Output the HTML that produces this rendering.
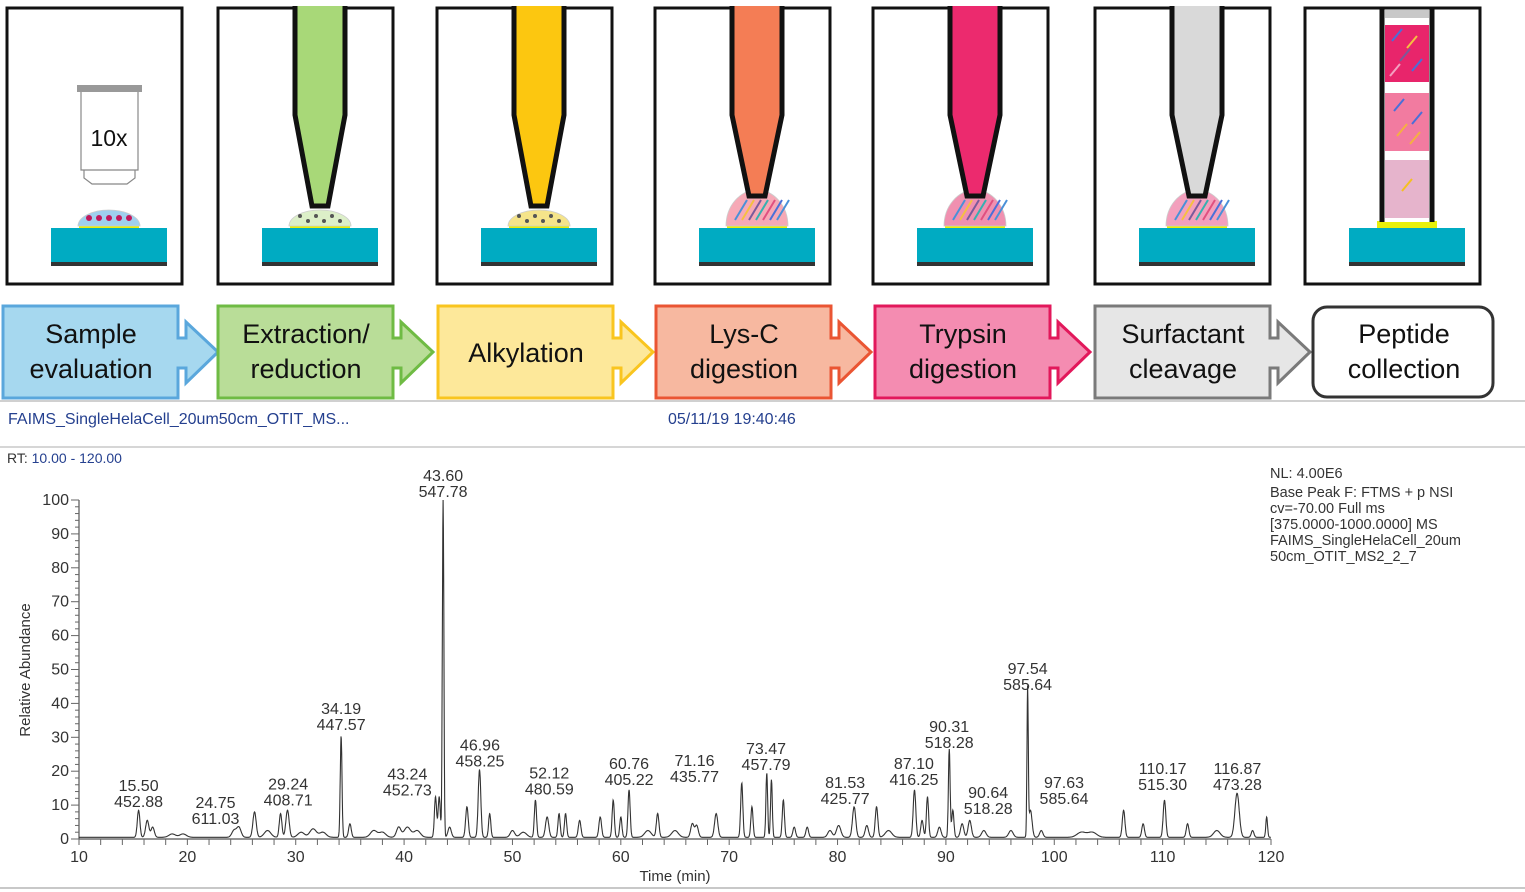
<!DOCTYPE html>
<html><head><meta charset="utf-8">
<style>
html,body{margin:0;padding:0;background:#fff;}
svg{display:block;font-family:"Liberation Sans",sans-serif;}
</style></head>
<body>
<svg id="fig" width="1525" height="892" viewBox="0 0 1525 892" xmlns="http://www.w3.org/2000/svg">
  <g id="panels"></g>
  <g id="steps"></g>
  <line x1="0" y1="401" x2="1525" y2="401" stroke="#d0d0d0" stroke-width="2"/>
  <text x="8" y="424" font-size="16" fill="#25408f">FAIMS_SingleHelaCell_20um50cm_OTIT_MS...</text>
  <text x="668" y="424" font-size="16" fill="#25408f">05/11/19 19:40:46</text>
  <line x1="0" y1="447" x2="1525" y2="447" stroke="#c8c8c8" stroke-width="1.5"/>
  <text x="7" y="463" font-size="14" fill="#333">RT: <tspan fill="#25408f">10.00 - 120.00</tspan></text>
  <g font-size="14.5" fill="#333">
    <text x="1270" y="478">NL: 4.00E6</text>
    <text x="1270" y="497">Base Peak F: FTMS + p NSI</text>
    <text x="1270" y="513">cv=-70.00  Full ms</text>
    <text x="1270" y="529">[375.0000-1000.0000]  MS</text>
    <text x="1270" y="545">FAIMS_SingleHelaCell_20um</text>
    <text x="1270" y="561">50cm_OTIT_MS2_2_7</text>
  </g>
  <g id="chart"></g>
  <line x1="0" y1="888" x2="1525" y2="888" stroke="#c8c8c8" stroke-width="2"/>
</svg>
<script>
// ---- chart data ----
const peakTimes = [15.5,16.3,16.8,18.6,19.6,24.3,24.75,26.2,27.4,28.6,29.24,30.5,31.6,32.5,34.19,35.0,37.2,38.0,39.5,40.3,41.2,42.9,43.24,43.60,44.2,45.8,46.96,47.9,50.0,51.0,52.12,53.2,54.3,54.9,56.2,58.1,59.3,60.0,60.76,62.5,63.4,65.0,66.6,67.0,68.8,71.16,72.1,73.47,73.9,75.0,76.0,77.2,79.3,80.1,81.53,82.7,83.6,84.7,87.10,87.8,88.3,89.4,90.31,90.64,91.5,92.2,93.5,96.0,97.54,97.8,98.8,102.5,103.5,106.4,108.2,110.17,112.3,115.0,116.87,118.3,119.6];
const peakHeights = [8,5,3,1,1,2,3,7.5,2,7,8,1.5,2.5,1.5,30,4,2,1.5,3,3,2,12,12,100,3,9,20,7,2,1.5,11,6,7,7,5,6,11,6,14,2,7,2,4,3.5,7,16,9,19,17,11,3,3,2,3.5,9,3.5,9,2,14,5,12,3,26,8,4,5,2,2,43,8,2,1.5,1.5,8,4,11,4,2,13,2,6];
const peakWidths = [0.12,0.15,0.15,0.3,0.3,0.2,0.2,0.15,0.3,0.12,0.15,0.3,0.3,0.3,0.08,0.12,0.3,0.3,0.2,0.3,0.3,0.1,0.1,0.07,0.15,0.12,0.12,0.1,0.2,0.3,0.1,0.15,0.1,0.1,0.12,0.12,0.1,0.1,0.1,0.3,0.12,0.3,0.15,0.15,0.15,0.1,0.1,0.08,0.08,0.1,0.12,0.12,0.2,0.2,0.15,0.15,0.12,0.3,0.12,0.12,0.1,0.15,0.08,0.1,0.15,0.15,0.2,0.2,0.06,0.15,0.15,0.4,0.4,0.12,0.12,0.12,0.12,0.3,0.2,0.12,0.08];
const labelTimes = ["15.50","24.75","29.24","34.19","43.24","43.60","46.96","52.12","60.76","71.16","73.47","81.53","87.10","90.31","90.64","97.54","97.63","110.17","116.87"];
const labelMasses = ["452.88","611.03","408.71","447.57","452.73","547.78","458.25","480.59","405.22","435.77","457.79","425.77","416.25","518.28","518.28","585.64","585.64","515.30","473.28"];
const labelX = [15.5,22.6,29.3,34.19,40.3,43.60,47.0,53.4,60.76,66.8,73.4,80.7,87.05,90.3,93.9,97.54,100.9,110.0,116.9];
const labelY = [8.5,3.6,9,31.2,12,100,20.5,12.3,15,16,19.5,9.5,15,26,6.5,43,9.5,13.5,13.5];
const xTicks = [10,20,30,40,50,60,70,80,90,100,110,120];
const yTicks = [0,10,20,30,40,50,60,70,80,90,100];

const X0=79, X1=1271, Y0=839, Y1=500, T0=10, T1=120;
function xs(t){return X0+(t-T0)*(X1-X0)/(T1-T0);}
function ys(v){return Y0-(v/100)*(Y0-Y1);}
const NS="http://www.w3.org/2000/svg";
function mk(tag,attrs,parent){const e=document.createElementNS(NS,tag);for(const k in attrs)e.setAttribute(k,attrs[k]);parent.appendChild(e);return e;}

const chart=document.getElementById('chart');
const ax=mk('line',{x1:X0,y1:Y0,x2:X1,y2:Y0,stroke:'#555','stroke-width':1.2},chart);


const ay=mk('line',{x1:X0,y1:Y0,x2:X0,y2:Y1,stroke:'#555','stroke-width':1.2},chart);


for(let v=0;v<=100;v+=2){
  const major=v%10===0;
  mk('line',{x1:X0-(major?8:4),y1:ys(v),x2:X0,y2:ys(v),stroke:'#666','stroke-width':1},chart);
}
yTicks.forEach(v=>{
  const t=mk('text',{x:X0-10,y:ys(v)+5,'font-size':16,'text-anchor':'end',fill:'#333'},chart);
  t.textContent=v;
  
  
});
for(let v=10;v<=120;v+=2){
  mk('line',{x1:xs(v),y1:Y0,x2:xs(v),y2:Y0+6,stroke:'#666','stroke-width':1},chart);
}
xTicks.forEach(v=>{
  const t=mk('text',{x:xs(v),y:Y0+23,'font-size':16,'text-anchor':'middle',fill:'#333'},chart);
  t.textContent=v;
  
  
});
const xt=mk('text',{x:675,y:881,'font-size':15,'text-anchor':'middle',fill:'#333'},chart);
xt.textContent='Time (min)';


const yt=mk('text',{x:30,y:670,'font-size':15,'text-anchor':'middle',fill:'#333',transform:'rotate(-90 30 670)'},chart);
yt.textContent='Relative Abundance';


let d='';
for(let t=T0;t<=T1;t+=0.03){
  let v=0.5;
  for(let i=0;i<peakTimes.length;i++){const z=(t-peakTimes[i])/peakWidths[i];v+=peakHeights[i]*Math.exp(-0.5*z*z);}
  v=Math.min(v,100);
  d+=(d?'L':'M')+xs(t).toFixed(1)+','+ys(v).toFixed(1);
}
const tr=mk('path',{d:d,fill:'none',stroke:'#333','stroke-width':1.1},chart);


labelTimes.forEach((s,i)=>{
  const tx=mk('text',{x:xs(labelX[i]),y:ys(labelY[i])-19,'font-size':16,'text-anchor':'middle',fill:'#333'},chart);
  tx.textContent=s;
  
  
  const tm=mk('text',{x:xs(labelX[i]),y:ys(labelY[i])-3,'font-size':16,'text-anchor':'middle',fill:'#333'},chart);
  tm.textContent=labelMasses[i];
  
  
});

// ---- workflow panels ----
const panels=document.getElementById('panels');
const lefts=[7,218,437,655,873,1095,1305];
const pipColors=[null,'#a8d878','#fcc710','#f47d55','#ec2a6e','#d9d9d9',null];
const dropFill=['#9fd0ee','#dcefc8','#f5e48a','#f6a9b6','#f090b0','#f3a0bd',null];
lefts.forEach((L,i)=>{
  const g=mk('g',{},panels);
  
  
  mk('rect',{x:L,y:8,width:175,height:276,fill:'#fff',stroke:'#111','stroke-width':3},g);
  const cx=L+102;
  mk('rect',{x:L+44,y:228,width:116,height:34,fill:'#00abc2'},g);
  mk('rect',{x:L+44,y:262,width:116,height:4,fill:'#333'},g);
  if(i===6){
    mk('rect',{x:cx-30,y:221,width:60,height:7,fill:'#e8f00a'},g);
    mk('rect',{x:cx-25,y:10,width:50,height:212,fill:'#fff'},g);
    mk('rect',{x:cx-22,y:10,width:44,height:8,fill:'#c8c8c8'},g);
    mk('rect',{x:cx-22,y:25,width:44,height:57,fill:'#e8256b'},g);
    mk('rect',{x:cx-22,y:93,width:44,height:58,fill:'#f27ba0'},g);
    mk('rect',{x:cx-22,y:160,width:44,height:58,fill:'#e6b4cc'},g);
    mk('line',{x1:cx-25,y1:9,x2:cx-25,y2:222,stroke:'#111','stroke-width':5},g);
    mk('line',{x1:cx+25,y1:9,x2:cx+25,y2:222,stroke:'#111','stroke-width':5},g);
    [[cx-10,35,'#4a6fd8'],[cx+5,42,'#f5c040'],[cx-2,55,'#7a5a9a'],[cx+10,65,'#4a6fd8'],[cx-12,70,'#f3a0c0'],[cx-8,105,'#4a6fd8'],[cx+10,118,'#4a6fd8'],[cx-5,130,'#f5b040'],[cx+8,138,'#f5b040'],[cx,185,'#f5c020']].forEach(p=>{
      mk('line',{x1:p[0]-5,y1:p[1]+6,x2:p[0]+5,y2:p[1]-6,stroke:p[2],'stroke-width':2},g);
    });
    return;
  }
  mk('rect',{x:cx-30,y:221,width:60,height:7,fill:'#e8f00a'},g);
  const big=i>=3;
  const ry=big?36:16, rx=31;
  mk('path',{d:`M${cx-rx},226 A${rx},${ry} 0 0 1 ${cx+rx},226 Z`,fill:dropFill[i],stroke:'#ccc','stroke-width':0.8},g);
  if(i===0){
    for(let k=0;k<5;k++) mk('circle',{cx:cx-20+k*10,cy:218,r:3,fill:'#c2185b'},g);
    mk('rect',{x:L+70,y:85,width:65,height:7,fill:'#999'},g);
    mk('path',{d:`M${L+74},92 L${L+74},170 L${L+131},170 L${L+131},92 M${L+77},170 L${L+77},178 L${L+85},184 L${L+120},184 L${L+128},178 L${L+128},170`,fill:'#fff',stroke:'#888','stroke-width':1.2},g);
    const t=mk('text',{x:L+102,y:146,'font-size':23,'text-anchor':'middle',fill:'#111'},g);
    t.textContent='10x';
    
    
  } else {
    if(big){
      const cols=['#4a90d8','#f5c040','#7a5a9a','#35b0b0','#e05080','#4a6fd8'];
      for(let k=0;k<7;k++) mk('line',{x1:cx-22+k*7,y1:220,x2:cx-10+k*7,y2:200,stroke:cols[k%6],'stroke-width':2},g);
    } else {
      for(let k=0;k<6;k++) mk('circle',{cx:cx-20+k*8,cy:216+(k%2)*5,r:2,fill:'#555'},g);
    }
    mk('path',{d:`M${cx-25},6 L${cx-25},115 L${cx-8},${big?196:206} L${cx+8},${big?196:206} L${cx+25},115 L${cx+25},6`,fill:pipColors[i],stroke:'#111','stroke-width':5},g);
  }
});

// ---- workflow step boxes ----
const steps=document.getElementById('steps');
const sLeft=[3,218,438,656,875,1095];
const sFill=['#a6d8ef','#b9dd98','#fde89a','#f7b8a0','#f48cb1','#e6e6e6'];
const sStroke=['#5aa7dc','#6fbb44','#f9c51f','#ea5533','#e2185b','#7a7a7a'];
const sText=[['Sample','evaluation'],['Extraction/','reduction'],['Alkylation'],['Lys-C','digestion'],['Trypsin','digestion'],['Surfactant','cleavage']];
sLeft.forEach((L,i)=>{
  const R=L+175;
  const p=mk('polygon',{points:`${L},306 ${R},306 ${R},338 ${R+8},338 ${R+8},322 ${R+40},352 ${R+8},383 ${R+8},368 ${R},368 ${R},398 ${L},398`,fill:sFill[i],stroke:sStroke[i],'stroke-width':3,'stroke-linejoin':'miter'},steps);
  
  
  const lines=sText[i];
  lines.forEach((s,k)=>{
    const y=lines.length===1?362:343+k*35;
    const t=mk('text',{x:L+88,y:y,'font-size':27,'text-anchor':'middle',fill:'#111'},steps);
    t.textContent=s;
    
    
  });
});
const last=mk('rect',{x:1313,y:307,width:180,height:90,rx:14,fill:'#fff',stroke:'#333','stroke-width':3},steps);


['Peptide','collection'].forEach((s,k)=>{
  const t=mk('text',{x:1404,y:343+k*35,'font-size':27,'text-anchor':'middle',fill:'#111'},steps);
  t.textContent=s;
  
  
});
</script>
</body></html>
